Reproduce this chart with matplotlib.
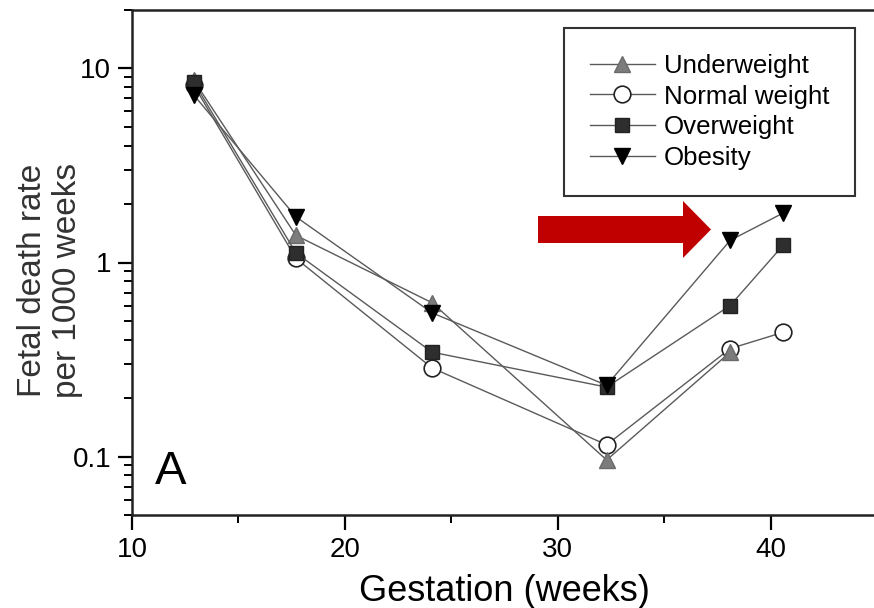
import matplotlib
matplotlib.use('Agg')
import matplotlib.pyplot as plt
from matplotlib.patches import FancyArrow
from matplotlib.ticker import LogLocator, FixedLocator, NullFormatter

plt.rcParams['font.family'] = ['Liberation Sans', 'DejaVu Sans']

# gestation (weeks) and fetal death rate per 1000 weeks
weeks = [12.9, 17.7, 24.1, 32.3, 38.1, 40.6]
underweight = [8.7, 1.38, 0.62, 0.096, 0.345]
normal = [8.2, 1.05, 0.286, 0.115, 0.36, 0.437]
overweight = [8.5, 1.12, 0.345, 0.228, 0.60, 1.23]
obesity = [7.3, 1.72, 0.55, 0.233, 1.30, 1.80]

x_ticks = [10, 20, 30, 40]
x_minor = [15, 25, 35]

fig = plt.figure(figsize=(8.74, 6.08), dpi=100)
ax = fig.add_axes([132/874, 93/608, 745/874, 505/608])

line_col = '#5a5a5a'
ax.plot(weeks[:5], underweight, color=line_col, lw=1.0, marker='^', ms=12,
        mfc='#7c7c7c', mec='#6a6a6a', label='Underweight', zorder=3)
ax.plot(weeks, normal, color=line_col, lw=1.0, marker='o', ms=12,
        mfc='white', mec='#222222', mew=1.2, label='Normal weight', zorder=2)
ax.plot(weeks, overweight, color=line_col, lw=1.0, marker='s', ms=10.5,
        mfc='#2e2e2e', mec='#222222', label='Overweight', zorder=4)
ax.plot(weeks, obesity, color=line_col, lw=1.0, marker='v', ms=12,
        mfc='black', mec='black', label='Obesity', zorder=5)

ax.set_yscale('log')
ax.set_xlim(10, 45)
ax.set_ylim(0.05, 20)

ax.xaxis.set_major_locator(FixedLocator(x_ticks))
ax.xaxis.set_minor_locator(FixedLocator(x_minor))
ax.yaxis.set_major_locator(LogLocator(base=10))
ax.yaxis.set_minor_locator(LogLocator(base=10, subs=range(2, 10)))
ax.yaxis.set_minor_formatter(NullFormatter())
ax.set_yticks([0.1, 1, 10])
ax.set_yticklabels(['0.1', '1', '10'])
ax.set_xticklabels([str(t) for t in x_ticks])

ax.tick_params(axis='both', which='major', labelsize=20, width=1.6,
               length=11, direction='out', pad=5)
ax.tick_params(axis='both', which='minor', width=1.4, length=6,
               direction='out')
ax.tick_params(axis='y', which='major', right=True, length=10)
ax.tick_params(axis='y', which='minor', right=False)

for s in ax.spines.values():
    s.set_linewidth(1.8)
    s.set_color('#222222')

ax.set_xlabel('Gestation (weeks)', fontsize=26, labelpad=8)
fig.text(50/874, 1 - 280/608, 'Fetal death rate\nper 1000 weeks',
         fontsize=24, rotation=90, ha='center', va='center',
         linespacing=1.15, color='#333333')

leg = ax.legend(loc='upper right', bbox_to_anchor=(0.9705, 0.9644),
                borderaxespad=0, fontsize=18.6, fancybox=False, framealpha=1,
                edgecolor='#333333', handlelength=2.5, handletextpad=0.35,
                labelspacing=0.26, borderpad=1.0)
leg.get_frame().set_linewidth(1.5)

ax.text(0.052, 0.085, 'A', transform=ax.transAxes, fontsize=34,
        ha='center', va='center')

arrow = FancyArrow(538/874, 1 - 229.5/608, (711 - 538)/874, 0,
                   width=27/608, head_width=57/608, head_length=28/874,
                   length_includes_head=True, color='#c00000', lw=0,
                   transform=fig.transFigure)
fig.patches.append(arrow)

fig.savefig('out.png', dpi=100)
